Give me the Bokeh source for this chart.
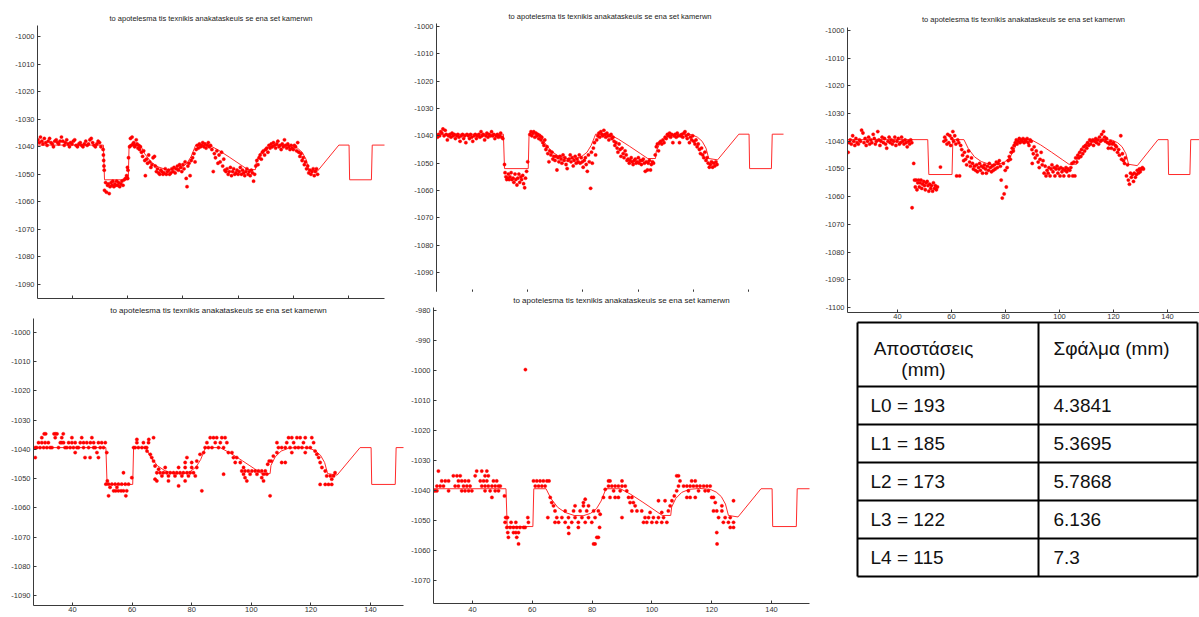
from bokeh.plotting import figure
from bokeh.layouts import row, column
from bokeh.models import Range1d, FixedTicker
from bokeh.embed import file_html
from bokeh.resources import INLINE
from bokeh.core.properties import value

TITLE = "to apotelesma tis texnikis anakataskeuis se ena set kamerwn"
FONT = "Liberation Sans"

x_ticks = [40, 60, 80, 100, 120, 140]
y_ticks_a = [-1000, -1010, -1020, -1030, -1040, -1050, -1060, -1070, -1080, -1090]
y_ticks_b = [-1000, -1010, -1020, -1030, -1040, -1050, -1060, -1070, -1080, -1090, -1100]
y_ticks_c = [-980, -990, -1000, -1010, -1020, -1030, -1040, -1050, -1060, -1070]

# reference trajectory (red line)
ref_x = [20, 51.2, 51.6, 60.2, 60.5, 64.6, 66.2, 68.5, 71, 74, 77, 79.5, 81.5, 83, 84.2, 84.6,
         89.5, 93, 97, 101, 103.5, 106.3, 106.6, 108, 110, 112.5, 116, 119.5, 121.5, 123.2, 124.6,
         125.6, 128.8, 136.5, 140.2, 140.4, 148.3, 148.6, 160]
ref_y = [-1039.4, -1039.4, -1052, -1052, -1039.4, -1039.4, -1042.6, -1045.6, -1047.3, -1048.3,
         -1048.4, -1047.6, -1046, -1043.5, -1040.5, -1039.4, -1039.4, -1041.3, -1043.9, -1046.6,
         -1048.3, -1048.3, -1045.5, -1042.6, -1040.6, -1039.6, -1039.3, -1039.6, -1040.5, -1042,
         -1044.5, -1048.3, -1048.8, -1039.4, -1039.4, -1052, -1052, -1039.4, -1039.4]

# reconstructed points, panel 1 (top left)
p1_pts = [
(27.5,-1037.5),(28.0,-1038.5),(28.4,-1036.5),(28.9,-1038),(29.3,-1039),(29.8,-1037),(30.3,-1038.5),(30.8,-1039.5),(31.2,-1038),(31.7,-1037),(32.2,-1038.5),(32.7,-1039),(33.1,-1040),(33.6,-1038),(34.1,-1037.5),(34.6,-1038.5),(35.0,-1039),(35.5,-1038),(36.0,-1036.5),(36.5,-1038),(37.0,-1039.5),(37.4,-1038.5),(37.9,-1037.5),(38.4,-1039),(38.9,-1040),(39.3,-1038.5),(39.8,-1039),(40.3,-1038),(40.8,-1037.5),(41.3,-1039.5),(41.8,-1040),(42.3,-1039),(42.8,-1038.5),(43.3,-1039.5),(43.8,-1040),(44.3,-1039),(44.8,-1038),(45.3,-1039.5),(45.8,-1039),(46.3,-1037.5),(46.8,-1037),(47.3,-1038.5),(47.8,-1039.5),(48.3,-1040),(48.8,-1039),(49.3,-1038),(49.8,-1038.5),(50.3,-1040),
(51.1,-1041),(51.2,-1043),(51.3,-1045),(51.4,-1047),(51.5,-1048.5),
(51.6,-1055.8),(52.0,-1053),(52.3,-1056.5),(52.7,-1054),(53.0,-1053.5),(53.3,-1057),(53.6,-1054.5),(54.0,-1053),(54.3,-1054),(54.6,-1052.5),(55.0,-1054.5),(55.3,-1053.5),(55.7,-1054),(56.0,-1052.5),(56.4,-1054),(56.7,-1053),(57.1,-1054.5),(57.5,-1053.5),(57.9,-1052.5),(58.3,-1054),(58.7,-1052),(59.2,-1051.5),(59.6,-1050.5),(60.0,-1051.5),
(59.9,-1047.5),(60.1,-1048.5),(60.3,-1044),
(60.7,-1040),(61.0,-1037),(61.3,-1039.5),(61.6,-1036.5),(61.9,-1039),(62.2,-1038.5),(62.5,-1040),(62.8,-1039.5),(63.1,-1037.5),(63.4,-1039),(63.7,-1040.5),(64.0,-1039.5),(64.3,-1041),(64.6,-1040),
(65.0,-1042),(65.4,-1043.5),(65.8,-1041.5),(66.2,-1045),(66.4,-1050.5),(66.8,-1044.5),(67.2,-1046),(67.6,-1043),(68.0,-1045.5),(68.4,-1047.5),(68.8,-1046.5),(69.2,-1044),(69.7,-1043.5),(70.0,-1047),
(70.4,-1049),(70.8,-1048),(71.2,-1049.5),(71.6,-1050),(72.0,-1048.5),(72.4,-1049),(72.8,-1050),(73.2,-1049.5),(73.6,-1048),(74.0,-1050),(74.4,-1049),(74.8,-1048.5),(75.2,-1050),(75.6,-1049.5),(76.0,-1048),(76.4,-1049),(76.8,-1047.5),(77.2,-1049.5),(77.6,-1048),(78.0,-1047),(78.4,-1048.5),(78.8,-1046.5),(79.2,-1047.5),(79.6,-1049),(80.0,-1046.5),(80.4,-1048),(80.8,-1045.5),(81.2,-1051.5),(81.5,-1054.5),(81.8,-1047),(82.2,-1046),(82.6,-1050.5),(83.0,-1045),
(83.5,-1044),(84.0,-1042.5),(84.4,-1045.5),(84.8,-1041),
(85.2,-1039.5),(85.6,-1040.5),(86.0,-1039),(86.4,-1040),(86.8,-1039.5),(87.2,-1038.5),(87.6,-1040),(88.0,-1039),(88.4,-1040.5),(88.8,-1039.5),(89.2,-1038.5),(89.6,-1040),(90.0,-1039.5),
(90.5,-1041),(91.0,-1049),(91.4,-1042.5),(91.8,-1044),(92.3,-1041.5),(92.7,-1046),(93.1,-1043),(93.5,-1045.5),(94.0,-1042),(94.4,-1047),(94.8,-1044.5),(95.2,-1048.5),
(95.6,-1049),(96.0,-1048),(96.4,-1050),(96.8,-1049),(97.2,-1047.5),(97.6,-1050.5),(98.0,-1049),(98.4,-1048),(98.8,-1050),(99.2,-1049.5),(99.6,-1048.5),(100.0,-1050),(100.4,-1049),(100.8,-1047.5),(101.2,-1050),(101.6,-1048.5),(102.0,-1049.5),(102.4,-1050.5),(102.8,-1049),(103.2,-1048),(103.6,-1050),(104.0,-1049),(104.4,-1050.5),(104.8,-1048.5),(105.2,-1049.5),(105.6,-1052.5),(106.0,-1050),
(106.4,-1047),(106.8,-1045),(107.2,-1046.5),(107.6,-1044),(108.0,-1043),(108.4,-1044.5),(108.8,-1042),(109.2,-1041.5),(109.6,-1043),(110.0,-1041),(110.4,-1040.5),(110.8,-1042),
(111.2,-1039.5),(111.6,-1040.5),(112.0,-1039),(112.4,-1040),(112.8,-1038.5),(113.2,-1039.5),(113.6,-1040.5),(114.0,-1039),(114.4,-1038),(114.8,-1040),(115.2,-1039.5),(115.6,-1041),(116.0,-1039),(116.4,-1040),(116.8,-1037.5),(117.2,-1039.5),(117.6,-1040.5),(118.0,-1039),(118.4,-1040),(118.8,-1041),(119.2,-1039.5),(119.6,-1040.5),(120.0,-1041),(120.4,-1039.5),(120.8,-1040),(121.2,-1041.5),
(121.6,-1038.5),(122.0,-1042),(122.4,-1043.5),(122.8,-1042.5),(123.2,-1045),(123.6,-1044),(124.0,-1046.5),(124.4,-1045.5),(124.8,-1048),(125.2,-1047),(125.6,-1049.5),(126.0,-1048.5),(126.4,-1050),(126.8,-1049),(127.2,-1048),(127.6,-1050.5),(128.0,-1049),(128.4,-1048),(128.8,-1050),
]

# panel 2 (top middle)
p2_pts = [
(27.3,-1040.5),(27.7,-1039.5),(28.1,-1040),(28.5,-1038.5),(28.9,-1039),(29.3,-1037.5),(29.7,-1040),(30.1,-1038),(30.5,-1039.5),(30.9,-1041.5),(31.3,-1040),(31.8,-1039.5),(32.2,-1040.5),(32.6,-1039),(33.0,-1040),(33.4,-1039.5),(33.8,-1041),(34.3,-1040),(34.7,-1039.5),(35.1,-1040.5),(35.5,-1042),(35.9,-1040),(36.4,-1039.5),(36.8,-1041),(37.2,-1040),(37.6,-1042.5),(38.0,-1039.5),(38.5,-1040),(38.9,-1041),(39.3,-1039.5),(39.7,-1040.5),(40.1,-1042),(40.6,-1040),(41.0,-1039.5),(41.4,-1041),(41.8,-1040),(42.3,-1039.5),(42.7,-1040.5),(43.1,-1038.5),(43.5,-1040),(43.9,-1039.5),(44.4,-1041.5),(44.8,-1040),(45.2,-1039),(45.6,-1040.5),(46.0,-1039.5),(46.5,-1040),(46.9,-1038.5),(47.3,-1040),(47.7,-1039.5),(48.1,-1041),(48.6,-1040),(49.0,-1039.5),(49.4,-1040.5),(49.8,-1040),(50.2,-1039),(50.6,-1040.5),(51.0,-1041),
(51.6,-1050.5),(51.8,-1053.5),(52.1,-1055),(52.4,-1056),(52.7,-1055.5),(53.0,-1054),(53.3,-1056),(53.6,-1055),(54.0,-1053.5),(54.3,-1056),(54.7,-1055.5),(55.0,-1057),(55.4,-1054),(55.7,-1056),(56.1,-1058),(56.4,-1055.5),(56.8,-1054),(57.1,-1057),(57.5,-1055),(57.8,-1056),(58.2,-1054.5),(58.5,-1057.5),(58.9,-1059),(59.2,-1055.5),(59.6,-1053),(60.0,-1049.5),
(60.8,-1039.5),(61.2,-1038.5),(61.5,-1040),(61.9,-1039),(62.2,-1038.5),(62.6,-1040.5),(63.0,-1039),(63.3,-1040),(63.7,-1039.5),(64.0,-1041),(64.4,-1040),(64.8,-1041.5),(65.1,-1040.5),
(65.5,-1042.5),(65.9,-1043.5),(66.2,-1041.5),(66.6,-1045),(67.0,-1044),(67.3,-1046.5),(67.7,-1049.5),(68.0,-1045.5),(68.4,-1047),(68.8,-1046),(69.1,-1048.5),(69.5,-1047.5),
(69.9,-1049),(70.2,-1047.5),(70.6,-1052.5),(71.0,-1048),(71.3,-1049.5),(71.7,-1047.5),(72.1,-1048.5),(72.4,-1050),(72.8,-1047),(73.2,-1049),(73.5,-1048),(73.9,-1050.5),(74.3,-1052),(74.6,-1049),(75.0,-1048.5),(75.4,-1047),(75.7,-1049.5),(76.1,-1048),(76.5,-1051),(76.8,-1049),(77.2,-1047.5),(77.6,-1050),(77.9,-1048.5),(78.3,-1049.5),(78.7,-1047),(79.0,-1050),(79.4,-1048),(79.8,-1049.5),(80.1,-1051.5),(80.5,-1049),(80.9,-1048),(81.2,-1050.5),(81.6,-1053),(82.0,-1047),(82.3,-1049.5),(82.8,-1059.2),(83.1,-1046),(83.4,-1050),
(83.8,-1044.5),(84.2,-1042.5),(84.6,-1047),(85.0,-1041.5),
(85.4,-1040),(85.8,-1039),(86.1,-1040.5),(86.5,-1038.5),(86.9,-1039.5),(87.2,-1040),(87.6,-1038),(88.0,-1039.5),(88.3,-1040.5),(88.7,-1039),(89.1,-1040),(89.4,-1041.5),(89.8,-1040),(90.2,-1039.5),(90.5,-1041),(90.9,-1040.5),
(91.3,-1042),(91.6,-1043.5),(92.0,-1042.5),(92.4,-1044.5),(92.7,-1046),(93.1,-1043),(93.5,-1045),(93.8,-1047.5),(94.2,-1044.5),(94.6,-1046.5),(94.9,-1048),(95.3,-1045.5),(95.7,-1047),(96.0,-1049),
(96.4,-1048.5),(96.8,-1050),(97.1,-1049),(97.5,-1048),(97.9,-1049.5),(98.2,-1050.5),(98.6,-1049),(99.0,-1048.5),(99.3,-1050),(99.7,-1049.5),(100.1,-1048),(100.4,-1050),(100.8,-1049),(101.2,-1050.5),(101.5,-1049),(101.9,-1048.5),(102.3,-1050),(102.6,-1053),(103.0,-1049.5),(103.4,-1052.5),(103.7,-1050),(104.1,-1049),(104.5,-1052.5),(104.8,-1050.5),(105.2,-1049.5),(105.6,-1050),
(106.2,-1047),(106.6,-1044),(107.0,-1043),(107.4,-1045.5),(107.8,-1042.5),(108.2,-1042),(108.6,-1043),(109.0,-1041.5),(109.4,-1042.5),(109.8,-1040.5),(110.2,-1041),
(110.6,-1039.5),(111.0,-1040),(111.4,-1039),(111.8,-1040.5),(112.2,-1039.5),(112.6,-1042.5),(113.0,-1040),(113.4,-1039.5),(113.8,-1040.5),(114.2,-1039),(114.6,-1040),(115.0,-1042.5),(115.4,-1040),(115.8,-1039.5),(116.2,-1040.5),(116.6,-1039),(117.0,-1038.5),(117.4,-1040),(117.8,-1041),(118.2,-1039.5),(118.6,-1042.5),(119.0,-1040.5),(119.4,-1041.5),(119.8,-1040),
(120.2,-1042),(120.6,-1043),(121.0,-1041.5),(121.4,-1044),(121.8,-1043),(122.2,-1045),(122.6,-1046.5),(123.0,-1044.5),(123.4,-1047),(123.8,-1048),(124.2,-1046),(124.6,-1049),(125.0,-1048),(125.4,-1050),(125.8,-1051.5),(126.2,-1050.5),(126.6,-1049.5),(127.0,-1051.5),(127.4,-1050),(127.8,-1051),(128.2,-1049.5),(128.6,-1050.5),
]

# panel 3 (top right)
p3_pts = [
(21.7,-1044),(22.1,-1040.5),(22.5,-1039.5),(22.9,-1041),(23.4,-1038),(23.8,-1040),(24.2,-1041.5),(24.6,-1039),(25.0,-1040.5),(25.5,-1041),(25.9,-1039.5),(26.3,-1040),(26.7,-1036),(27.2,-1037),(27.6,-1040.5),(28.0,-1039),(28.4,-1041.5),(28.9,-1040),(29.3,-1038.5),(29.7,-1041),(30.1,-1039.5),(30.5,-1040.5),(31.0,-1037.5),(31.4,-1039),(31.8,-1041),(32.2,-1040),(32.7,-1036.5),(33.1,-1039.5),(33.5,-1041.5),(33.9,-1040),(34.3,-1038.5),(34.8,-1040.5),(35.2,-1039),(35.6,-1041),(36.0,-1042.5),(36.5,-1040),(36.9,-1038.5),(37.3,-1040.5),(37.7,-1039.5),(38.1,-1041),(38.6,-1040),(39.0,-1038.5),(39.4,-1041.5),(39.8,-1040),(40.3,-1039),(40.7,-1041),(41.1,-1040.5),(41.5,-1038.5),(41.9,-1040),(42.4,-1041),(42.8,-1039.5),(43.2,-1040.5),(43.6,-1042),(44.1,-1040),(44.5,-1041),(44.9,-1039.5),(45.3,-1040.5),
(45.4,-1064),(46.0,-1048),(46.3,-1054),(46.6,-1056.5),(46.9,-1054),(47.2,-1057.5),(47.5,-1055),(47.8,-1054),(48.1,-1056.5),(48.4,-1055),(48.7,-1054),(49.0,-1057),(49.3,-1055.5),(49.7,-1054.5),(50.0,-1056),(50.3,-1057.5),(50.6,-1055),(51.0,-1054.5),(51.3,-1056),(51.6,-1058),(51.9,-1055.5),(52.3,-1057),(52.6,-1056),(53.0,-1058),(53.3,-1055),(53.7,-1057),(54.0,-1056),(54.4,-1057.5),(54.8,-1056.5),
(55.9,-1049.3),
(57.2,-1040),(57.5,-1038.5),(57.9,-1039.5),(58.3,-1041),(58.6,-1037.5),(59.0,-1040.5),(59.4,-1038),(59.7,-1041.5),(60.1,-1039),(60.5,-1036.5),(60.8,-1040),(61.2,-1038),(61.6,-1041),(61.9,-1052.5),(62.3,-1039.5),(62.7,-1040.5),(63.0,-1052.5),(63.4,-1041.5),
(63.8,-1043),(64.1,-1045),(64.5,-1047),(64.8,-1044),(65.2,-1046.5),(65.6,-1048.5),(65.9,-1045.5),(66.3,-1043.5),(66.7,-1047.5),(67.0,-1049),(67.4,-1046),(67.8,-1048),(68.1,-1050),
(68.5,-1049),(68.9,-1050.5),(69.3,-1048.5),(69.6,-1051),(70.0,-1049.5),(70.4,-1048),(70.7,-1050.5),(71.1,-1049),(71.5,-1051.5),(71.8,-1049.5),(72.2,-1048.5),(72.6,-1050),(72.9,-1051.5),(73.3,-1049),(73.7,-1050.5),(74.0,-1048),(74.4,-1049.5),(74.8,-1051),(75.1,-1049),(75.5,-1050.5),(75.9,-1048.5),(76.2,-1050),(76.6,-1047.5),(77.0,-1049.5),(77.3,-1048),(77.7,-1047),(78.1,-1049),(78.4,-1054),(78.8,-1060.5),(79.2,-1048),(79.5,-1059),(79.9,-1050.5),(80.3,-1056.5),(80.6,-1049.5),
(81.0,-1047),(81.4,-1045.5),(81.8,-1046.5),(82.1,-1044),(82.5,-1042.5),(82.9,-1043.5),(83.2,-1041.5),
(83.6,-1040.5),(84.0,-1039.5),(84.3,-1041),(84.7,-1040),(85.1,-1039),(85.4,-1040.5),(85.8,-1039.5),(86.2,-1040),(86.5,-1039),(86.9,-1040.5),(87.3,-1039.5),(87.6,-1040),(88.0,-1039),(88.4,-1040.5),(88.7,-1041.5),(89.1,-1039.5),(89.5,-1040),(89.8,-1043),(89.9,-1048),
(90.3,-1044.5),(90.6,-1042),(91.0,-1046),(91.4,-1043.5),(91.7,-1045),(92.1,-1047.5),(92.5,-1049.5),(92.8,-1046.5),(93.2,-1044),(93.6,-1048.5),(93.9,-1047),(94.3,-1051.5),(94.7,-1049),(95.0,-1052.5),
(95.4,-1050.5),(95.8,-1051.5),(96.1,-1049.5),(96.5,-1052.5),(96.9,-1050),(97.2,-1048.5),(97.6,-1051),(98.0,-1049.5),(98.3,-1052.5),(98.7,-1050),(99.1,-1049),(99.4,-1051.5),(99.8,-1050),(100.2,-1052.5),(100.5,-1049.5),(100.9,-1051),(101.3,-1050),(101.6,-1052.5),(102.0,-1050.5),(102.4,-1049.5),(102.7,-1051),(103.1,-1050),(103.5,-1052.5),(103.8,-1050.5),(104.2,-1049.5),(104.6,-1048),(104.9,-1052.5),(105.3,-1047.5),(105.7,-1052.5),
(106.0,-1046),(106.4,-1047.5),(106.8,-1045),(107.1,-1046),(107.5,-1044),(107.9,-1045.5),(108.2,-1043),(108.6,-1044.5),(109.0,-1042),(109.3,-1043.5),(109.7,-1041.5),(110.1,-1042.5),(110.4,-1040.5),(110.8,-1041.5),
(111.2,-1039.5),(111.5,-1041),(111.9,-1040),(112.3,-1039.5),(112.6,-1041.5),(113.0,-1040),(113.4,-1039),(113.7,-1040.5),(114.1,-1039.5),(114.5,-1041),(114.8,-1038.5),(115.2,-1040),(115.6,-1037.5),(115.9,-1039.5),(116.3,-1036.5),(116.7,-1038.5),(117.0,-1040),(117.4,-1039),(117.8,-1040.5),(118.1,-1042.5),(118.5,-1041),(118.9,-1040),(119.2,-1042.5),(119.6,-1041),(120.0,-1040.5),(120.3,-1043),(120.7,-1041.5),(121.1,-1042),
(122.7,-1038),
(121.5,-1044),(121.9,-1043),(122.2,-1045),(123.0,-1046.5),(123.3,-1044.5),(123.7,-1047),(124.1,-1048),(124.4,-1046),(124.8,-1052.5),(125.2,-1048.5),(125.5,-1054),(125.9,-1055.5),(126.3,-1051.5),(126.6,-1053),(127.0,-1052),(127.4,-1054.5),(127.7,-1051.5),(128.1,-1053),(128.5,-1052),(128.8,-1050.5),(129.2,-1051.5),(129.6,-1050),(129.9,-1051),(130.3,-1050),(130.7,-1049.5),(131.1,-1050),
]

# panel 4 (bottom left)
p4_pts = [
(30.5,-1034.7),(31.0,-1034.7),(33.8,-1034.7),(34.3,-1034.7),(34.8,-1034.7),(36.9,-1034.7),
(29.7,-1036),(34.2,-1036),(36.4,-1036),(39.8,-1036),(43.1,-1036),(46.5,-1036),
(28.6,-1037.7),(29.7,-1037.7),(30.8,-1037.7),(31.9,-1037.7),(35.9,-1037.7),(36.4,-1037.7),(37.0,-1037.7),(38.7,-1037.7),(39.8,-1037.7),(40.9,-1037.7),(42.6,-1037.7),(43.7,-1037.7),(44.8,-1037.7),(46.0,-1037.7),(47.1,-1037.7),(48.7,-1037.7),(49.8,-1037.7),(51.0,-1037.7),
(27.5,-1039.4),(28.0,-1039.4),(29.1,-1039.4),(30.3,-1039.4),(31.4,-1039.4),(32.5,-1039.4),(33.1,-1039.4),(35.3,-1039.4),(37.5,-1039.4),(38.1,-1039.4),(39.2,-1039.4),(40.3,-1039.4),(41.5,-1039.4),(42.0,-1039.4),(43.7,-1039.4),(45.4,-1039.4),(47.1,-1039.4),(47.6,-1039.4),(49.3,-1039.4),(50.4,-1039.4),
(40.9,-1041.1),(48.2,-1041.1),(51.5,-1041.1),(27.5,-1042.8),(44.2,-1042.8),(45.9,-1042.8),(48.7,-1042.8),
(51.7,-1050.8),(51.2,-1051.9),(52.1,-1051.9),(53.2,-1051.9),(54.3,-1051.9),(55.4,-1051.9),(56.5,-1051.9),(57.7,-1051.9),(58.8,-1051.9),
(53.8,-1054.2),(54.5,-1054.2),(55.4,-1054.2),(56.3,-1054.2),(57.1,-1054.2),(58.2,-1054.2),(52.1,-1055.9),(57.9,-1055.9),(57.1,-1048),(52.6,-1053),(54.9,-1053),(59.9,-1049.7),
(61.6,-1036.6),(65.6,-1036.6),(67.2,-1036),(61.6,-1037.7),(63.8,-1037.7),(65.5,-1037.7),(60.5,-1039.4),(61.0,-1039.4),(62.1,-1039.4),(63.3,-1039.4),(64.4,-1039.4),(64.9,-1039.4),
(65.0,-1040.6),(66.1,-1041.7),(66.6,-1042.8),(67.2,-1044),(67.7,-1045.7),(68.3,-1048),(67.7,-1050.2),(68.9,-1046.8),
(69.4,-1048),(70.5,-1048),(71.6,-1048),(72.8,-1048),(73.9,-1048),(75.0,-1048),(76.1,-1048),(77.2,-1048),(78.4,-1048),(79.5,-1048),(80.6,-1048),
(70.0,-1049.1),(72.2,-1049.1),(74.4,-1049.1),(76.7,-1049.1),(78.9,-1049.1),(81.2,-1049.1),
(71.1,-1046.2),(75.6,-1046.2),(77.8,-1046.2),(80.0,-1046.2),(81.7,-1046.2),(77.8,-1044.5),(80.0,-1044.5),
(68.3,-1050.8),(72.2,-1050.8),(77.8,-1050.8),(75.6,-1052.5),(83.4,-1054.2),(78.4,-1042.8),
(81.7,-1044),(82.8,-1041.7),(84.0,-1041.1),(84.5,-1039.4),
(86.2,-1036),(87.3,-1036),(88.4,-1036),(90.1,-1036),(91.2,-1036),(85.1,-1037.7),(87.9,-1037.7),(89.6,-1037.7),(91.8,-1037.7),(85.6,-1039.4),(86.8,-1039.4),(89.0,-1039.4),(90.7,-1039.4),
(92.3,-1041.1),(93.5,-1041.1),(94.0,-1042.8),(95.1,-1042.8),(94.6,-1044.5),(96.3,-1044.5),(97.4,-1046.2),(90.7,-1048.5),
(96.8,-1047.4),(97.9,-1047.4),(99.0,-1047.4),(100.2,-1047.4),(101.3,-1047.4),(102.4,-1047.4),(103.5,-1047.4),(104.7,-1047.4),
(97.4,-1048.5),(99.6,-1048.5),(101.9,-1048.5),(104.1,-1048.5),(105.2,-1048.5),(97.9,-1049.7),(103.5,-1049.7),(98.5,-1050.8),(104.1,-1050.8),
(106.3,-1055.9),
(105.5,-1045.1),(106.0,-1044),(106.7,-1044),(107.4,-1042.3),(110.2,-1044.5),(111.4,-1044.5),(108.6,-1041.1),(109.1,-1039.4),
(112.5,-1036),(113.6,-1036),(115.3,-1036),(116.4,-1036),(118.1,-1036),(120.3,-1036),
(108.6,-1037.7),(111.9,-1037.7),(114.2,-1037.7),(117.5,-1037.7),(120.9,-1037.7),
(110.2,-1039.4),(111.4,-1039.4),(113.0,-1039.4),(114.7,-1039.4),(115.8,-1039.4),(117.0,-1039.4),(118.6,-1039.4),(119.8,-1039.4),
(113.6,-1041.1),(118.1,-1041.1),
(121.4,-1040.6),(122.0,-1041.7),(122.6,-1042.8),(123.1,-1044.5),(123.7,-1046.2),(124.8,-1047.4),(125.3,-1049.1),(126.5,-1049.1),(127.6,-1049.1),(128.1,-1048),
(123.1,-1052),(124.8,-1052),(125.9,-1052),(127.0,-1052),(127.0,-1050.2),
]

# panel 5 (bottom middle)
p5_pts = [
(28.6,-1033.5),(41.4,-1033.5),(43.1,-1033.5),(44.8,-1033.5),
(33.6,-1035.1),(34.8,-1035.1),(35.9,-1035.1),(40.9,-1035.1),(44.2,-1035.1),(45.3,-1035.1),
(29.7,-1036.8),(30.9,-1036.8),(32.0,-1036.8),(35.3,-1036.8),(36.4,-1036.8),(37.5,-1036.8),(38.7,-1036.8),(42.6,-1036.8),(43.7,-1036.8),(44.8,-1036.8),(47.0,-1036.8),(48.1,-1036.8),
(28.1,-1038.5),(29.2,-1038.5),(30.3,-1038.5),(34.2,-1038.5),(35.3,-1038.5),(37.0,-1038.5),(38.1,-1038.5),(39.2,-1038.5),(43.1,-1038.5),(44.2,-1038.5),(45.3,-1038.5),(46.5,-1038.5),(47.6,-1038.5),(48.7,-1038.5),(49.3,-1038.5),
(27.0,-1040.1),(27.5,-1040.1),(28.1,-1040.1),(32.0,-1040.1),(36.4,-1040.1),(37.5,-1040.1),(38.7,-1040.1),(39.8,-1040.1),(44.2,-1040.1),(45.9,-1040.1),(47.6,-1040.1),(48.7,-1040.1),
(46.5,-1042.3),
(50.7,-1041.8),(51.1,-1049),(51.7,-1049),(50.9,-1050.6),(51.5,-1052.3),(51.8,-1054),(52.0,-1055.6),
(52.9,-1050.6),(54.5,-1050.6),(52.6,-1052.3),(53.7,-1052.3),(54.8,-1052.3),(55.9,-1052.3),(57.1,-1052.3),(57.6,-1052.3),(53.7,-1054),(54.5,-1054),(55.4,-1054),(54.8,-1055.6),(55.4,-1057.8),(58.5,-1049),(58.7,-1050.6),
(57.7,-999.7),
(60.4,-1036.8),(61.5,-1036.8),(62.6,-1036.8),(63.7,-1036.8),(64.9,-1036.8),(65.6,-1036.8),(61.0,-1038.5),(62.1,-1038.5),(63.2,-1038.5),(64.3,-1038.5),
(66.0,-1042.3),(66.5,-1044),(67.1,-1045.1),(67.6,-1046.8),(65.2,-1049),(68.2,-1049),(68.8,-1050.6),
(69.9,-1049),(72.1,-1049),(74.3,-1049),(76.6,-1049),(78.8,-1049),(81.0,-1049),
(67.6,-1050.6),(71.0,-1050.6),(73.2,-1050.6),(75.4,-1050.6),(77.7,-1050.6),(79.9,-1050.6),
(71.0,-1046.8),(73.8,-1046.8),(76.0,-1046.8),(78.2,-1046.8),(80.5,-1046.8),(82.1,-1046.8),
(74.3,-1045.1),(77.1,-1045.1),(78.8,-1045.1),(77.1,-1044),(77.7,-1042.9),
(72.1,-1052.3),(75.4,-1052.3),(72.2,-1054.3),(80.5,-1057.8),(81.0,-1057.8),(81.6,-1055.6),(82.1,-1055.6),(82.5,-1052.3),(82.7,-1047.9),
(83.8,-1042.3),(84.4,-1039.6),(85.5,-1036.8),
(85.5,-1038.5),(86.6,-1038.5),(87.7,-1038.5),(88.8,-1038.5),(90.0,-1038.5),(91.1,-1038.5),(86.0,-1036.8),(90.0,-1036.8),(87.2,-1040.1),(89.4,-1040.1),(91.6,-1040.1),(86.0,-1042.3),(87.7,-1042.3),(88.8,-1042.3),
(92.2,-1042.3),(93.3,-1042.3),(92.7,-1044),(93.8,-1044),(94.4,-1045.1),(93.3,-1046.8),(95.0,-1046.8),(96.6,-1046.8),(90.0,-1049),(97.7,-1049),
(98.9,-1049),(100.5,-1049),(102.2,-1049),(103.9,-1049),(97.2,-1050.6),(98.3,-1050.6),(100.0,-1050.6),(101.6,-1050.6),(103.3,-1050.6),(105.0,-1050.6),(99.4,-1047.3),(103.3,-1047.3),(102.2,-1043.4),(104.4,-1043.4),(105.5,-1046.8),
(106.1,-1045.1),(106.7,-1043.4),(107.5,-1041.8),(108.3,-1040.1),(108.9,-1038.5),(108.3,-1035.1),(108.9,-1035.1),(109.4,-1036.8),
(113.3,-1036.8),(114.5,-1036.8),(110.6,-1038.5),(111.7,-1038.5),(112.8,-1038.5),(113.9,-1038.5),(115.0,-1038.5),(116.1,-1038.5),(117.3,-1038.5),(118.4,-1038.5),(119.5,-1038.5),
(112.2,-1040.1),(115.6,-1040.1),(117.8,-1040.1),(118.9,-1040.1),(111.7,-1042.3),(112.8,-1042.3),(114.5,-1042.3),(120.0,-1042.3),
(120.6,-1042.3),(121.2,-1044),(120.6,-1046.8),(121.7,-1046.8),(123.4,-1046.8),(122.3,-1049),(124.5,-1049),(126.2,-1049),(123.9,-1050.6),(125.6,-1050.6),(127.3,-1050.6),(126.2,-1052.3),(127.3,-1052.3),(121.7,-1054),(121.8,-1057.8),(123.4,-1045.1),(127.3,-1043.4),
]

# table
table_header = ["Αποστάσεις", "(mm)", "Σφάλμα (mm)"]
table_dist = ["L0 = 193", "L1 = 185", "L2 = 173", "L3 = 122", "L4 = 115"]
table_err = ["4.3841", "5.3695", "5.7868", "6.136", "7.3"]


def panel(width, height, xr, yr, yticks, borders, title_size, standoff, pts, label_standoff,
          show_xlabels=True):
    l, r, t, b = borders
    p = figure(width=width, height=height, x_range=Range1d(*xr), y_range=Range1d(*yr),
               output_backend="svg", toolbar_location=None,
               min_border_left=l, min_border_right=r, min_border_top=t, min_border_bottom=b)
    p.frame_align = False
    p.title.text = TITLE
    p.title.align = "center"
    p.title.text_font = FONT
    p.title.text_font_size = title_size
    p.title.text_font_style = "normal"
    p.title.text_color = "#222222"
    p.title.standoff = standoff
    p.outline_line_color = None
    p.xgrid.visible = False
    p.ygrid.visible = False
    for ax in (p.xaxis[0], p.yaxis[0]):
        ax.major_tick_in = 3
        ax.major_tick_out = 0
        ax.minor_tick_line_color = None
        ax.axis_line_color = "#3a3a3a"
        ax.major_tick_line_color = "#3a3a3a"
        ax.major_label_text_font = FONT
        ax.major_label_text_font_size = "7.5px"
        ax.major_label_text_color = "#333333"
    p.xaxis.ticker = FixedTicker(ticks=x_ticks)
    p.yaxis.ticker = FixedTicker(ticks=yticks)
    p.yaxis.major_label_overrides = {t_: str(t_) for t_ in yticks}
    p.xaxis.major_label_standoff = label_standoff
    p.yaxis.major_label_standoff = 3
    if not show_xlabels:
        p.xaxis.major_label_text_color = None
    p.line(ref_x, ref_y, line_color="#ff2a2a", line_width=1)
    xs = [q[0] for q in pts]
    ys = [q[1] for q in pts]
    p.scatter(xs, ys, size=3.3, fill_color="#ff0000", line_color="#ff0000", line_width=0.4)
    return p


# column 1 (x 0..404)
p1 = panel(404, 312, (27.32, 153.04), (-1095.07, -996.01), y_ticks_a, (37, 20, 25, 14),
           "7.5px", 5, p1_pts, 3, show_xlabels=False)
p4 = panel(404, 318, (26.91, 151.07), (-1093.42, -995.23), y_ticks_a, (33, 1, 18, 12),
           "8px", 8, p4_pts, 1)
p4.margin = (-13, 0, 0, 0)

# column 2 (x 404..812)
p2 = panel(408, 306, (26.96, 152.68), (-1097.33, -998.90), y_ticks_a, (32, 29, 23, 14),
           "7.5px", 6, p2_pts, 3, show_xlabels=False)
p5 = panel(408, 326, (26.96, 152.71), (-1077.64, -979.0), y_ticks_c, (29, 3, 15, 14),
           "8px", 5, p5_pts, 3)
p5.margin = (-15, 0, 0, 0)

# column 3 (x 812..1199)
p3 = panel(387, 323, (21.48, 151.85), (-1101.81, -998.92), y_ticks_b, (35, 0, 27, 11),
           "7.5px", 8, p3_pts, 1)

# table drawn in page-pixel coordinates
col_edges = [857, 1038, 1197]
row_edges = [322, 386, 424, 462, 500, 538, 576]
tb = figure(width=387, height=297, x_range=Range1d(812, 1199), y_range=Range1d(617, 320),
            output_backend="svg", toolbar_location=None, min_border=0,
            x_axis_location=None, y_axis_location=None)
tb.frame_align = False
tb.margin = (-3, 0, 0, 0)
tb.outline_line_color = None
tb.xgrid.visible = False
tb.ygrid.visible = False
tb.segment(x0=col_edges, y0=[row_edges[0]] * len(col_edges), x1=col_edges,
           y1=[row_edges[-1]] * len(col_edges), line_color="black", line_width=2)
tb.segment(x0=[col_edges[0]] * len(row_edges), y0=row_edges, x1=[col_edges[-1]] * len(row_edges),
           y1=row_edges, line_color="black", line_width=2)
tb.text(x=[923, 923], y=[348, 369], text=table_header[:2], text_font=value(FONT),
        text_font_size="19px", text_align="center", text_baseline="middle", text_color="#111111")
tb.text(x=[1053], y=[348], text=table_header[2:], text_font=value(FONT),
        text_font_size="19px", text_align="left", text_baseline="middle", text_color="#111111")
row_mid = [(row_edges[i] + row_edges[i + 1]) / 2 for i in range(1, len(row_edges) - 1)]
tb.text(x=[870] * len(table_dist), y=row_mid, text=table_dist, text_font=value(FONT),
        text_font_size="19px", text_align="left", text_baseline="middle", text_color="#111111")
tb.text(x=[1053] * len(table_err), y=row_mid, text=table_err, text_font=value(FONT),
        text_font_size="19px", text_align="left", text_baseline="middle", text_color="#111111")

col1 = column(p1, p4)
col2 = column(p2, p5)
col3 = column(p3, tb)
root = row(col1, col2, col3, width=1199, height=617, sizing_mode="fixed",
           styles={"overflow": "hidden"})

open("out.html", "w").write(file_html(root, INLINE))
